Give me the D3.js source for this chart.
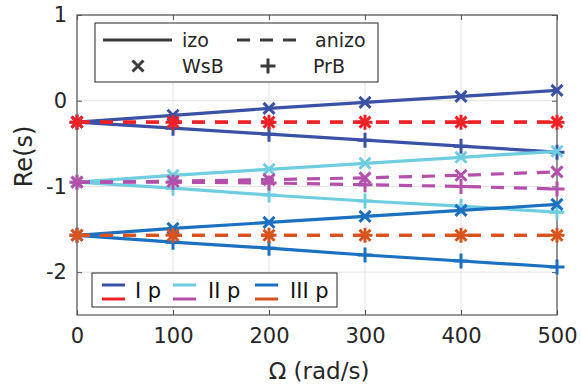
<!DOCTYPE html>
<html>
<head>
<meta charset="utf-8">
<script src="https://cdn.jsdelivr.net/npm/d3@7"></script>
<style>
  html, body { margin: 0; padding: 0; background: #fff; }
  svg { display: block; font-family: "DejaVu Sans", sans-serif; }
</style>
</head>
<body>
<svg id="chart" width="581" height="386"></svg>
<script>
// Rotation speed samples (rad/s)
const omega = [0, 100, 200, 300, 400, 500];

// Real part of the eigenvalues, per mode, material model and beam theory
const izoWsB_I   = [-0.25, -0.17, -0.09, -0.02, 0.05, 0.12];
const izoPrB_I   = [-0.25, -0.32, -0.39, -0.46, -0.53, -0.60];
const anizoWsB_I = [-0.25, -0.25, -0.25, -0.25, -0.25, -0.25];
const anizoPrB_I = [-0.25, -0.25, -0.25, -0.25, -0.25, -0.25];

const izoWsB_II   = [-0.95, -0.87, -0.80, -0.73, -0.66, -0.59];
const izoPrB_II   = [-0.95, -1.02, -1.10, -1.17, -1.23, -1.30];
const anizoWsB_II = [-0.95, -0.94, -0.92, -0.90, -0.87, -0.83];
const anizoPrB_II = [-0.95, -0.95, -0.96, -0.98, -1.00, -1.03];

const izoWsB_III   = [-1.57, -1.49, -1.42, -1.35, -1.28, -1.21];
const izoPrB_III   = [-1.57, -1.65, -1.72, -1.80, -1.87, -1.94];
const anizoWsB_III = [-1.57, -1.57, -1.57, -1.57, -1.57, -1.57];
const anizoPrB_III = [-1.57, -1.57, -1.57, -1.57, -1.57, -1.57];

const xTicks = [0, 100, 200, 300, 400, 500];
const yTicks = [1, 0, -1, -2];
const modeLabels = ["I p", "II p", "III p"];

const colIzo   = ["#3a51a5", "#6fcde0", "#1b70c0"];
const colAnizo = ["#ee2226", "#b44fab", "#d9531e"];

const svg = d3.select("#chart");
const m = { left: 77, right: 557, top: 15, bottom: 315 };

const x = d3.scaleLinear().domain([0, 500]).range([m.left, m.right]);
const y = d3.scaleLinear().domain([-2.5, 1]).range([m.bottom, m.top]);

// plain hyphen-minus tick labels
const fmt = d => String(d);

// grid
const grid = svg.append("g").attr("stroke", "#e4e4e4").attr("stroke-width", 1);
xTicks.forEach(t => grid.append("line")
  .attr("x1", x(t)).attr("x2", x(t)).attr("y1", m.top).attr("y2", m.bottom));
yTicks.forEach(t => grid.append("line")
  .attr("x1", m.left).attr("x2", m.right).attr("y1", y(t)).attr("y2", y(t)));

// axes with inward ticks on all sides
const axisColor = "#555";
const tickLen = 5;
function styleAxis(g) {
  g.select(".domain").remove();
  g.selectAll(".tick line").attr("stroke", axisColor);
  g.selectAll(".tick text").attr("fill", "#262626")
    .style("font-family", "DejaVu Sans").style("font-size", "21px");
}
svg.append("g").attr("transform", `translate(0,${m.bottom})`)
  .call(d3.axisBottom(x).tickValues(xTicks).tickSizeInner(-tickLen).tickSizeOuter(0).tickPadding(13).tickFormat(fmt))
  .call(styleAxis);
svg.append("g").attr("transform", `translate(0,${m.top})`)
  .call(d3.axisTop(x).tickValues(xTicks).tickSizeInner(-tickLen).tickSizeOuter(0).tickFormat(""))
  .call(styleAxis);
svg.append("g").attr("transform", `translate(${m.left},0)`)
  .call(d3.axisLeft(y).tickValues(yTicks).tickSizeInner(-tickLen).tickSizeOuter(0).tickPadding(10).tickFormat(fmt))
  .call(styleAxis);
svg.append("g").attr("transform", `translate(${m.right},0)`)
  .call(d3.axisRight(y).tickValues(yTicks).tickSizeInner(-tickLen).tickSizeOuter(0).tickFormat(""))
  .call(styleAxis);

svg.append("rect")
  .attr("x", m.left).attr("y", m.top)
  .attr("width", m.right - m.left).attr("height", m.bottom - m.top)
  .attr("fill", "none").attr("stroke", axisColor).attr("stroke-width", 1.2);

// axis titles
svg.append("text")
  .attr("x", (m.left + m.right) / 2 + 2).attr("y", 379)
  .attr("text-anchor", "middle").attr("fill", "#262626")
  .style("font-size", "23px").text("Ω (rad/s)");
svg.append("text")
  .attr("transform", `translate(32,${(y(-0.5)+y(-1.5))/2 - 30}) rotate(-90)`)
  .attr("text-anchor", "middle").attr("fill", "#262626")
  .style("font-size", "24px").text("Re(s)");

// markers
const ms = 5.5;
function markX(g, cx, cy, col) {
  g.append("path")
    .attr("d", `M${cx-ms},${cy-ms}L${cx+ms},${cy+ms}M${cx-ms},${cy+ms}L${cx+ms},${cy-ms}`)
    .attr("stroke", col).attr("stroke-width", 3).attr("fill", "none");
}
function markPlus(g, cx, cy, col) {
  const p = ms + 2;
  g.append("path")
    .attr("d", `M${cx-p},${cy}L${cx+p},${cy}M${cx},${cy-p}L${cx},${cy+p}`)
    .attr("stroke", col).attr("stroke-width", 3).attr("fill", "none");
}

const line = d3.line().x((d, i) => x(omega[i])).y(d => y(d));
const plot = svg.append("g");

function series(vals, col, dashed, marker) {
  plot.append("path").datum(vals)
    .attr("d", line).attr("fill", "none")
    .attr("stroke", col).attr("stroke-width", 3.2)
    .attr("stroke-dasharray", dashed ? "13,10" : null);
  vals.forEach((v, i) => marker(plot, x(omega[i]), y(v), col));
}

const izoSets = [[izoWsB_I, izoPrB_I], [izoWsB_II, izoPrB_II], [izoWsB_III, izoPrB_III]];
const anizoSets = [[anizoWsB_I, anizoPrB_I], [anizoWsB_II, anizoPrB_II], [anizoWsB_III, anizoPrB_III]];

[0, 1, 2].forEach(k => {
  series(izoSets[k][0], colIzo[k], false, markX);
  series(izoSets[k][1], colIzo[k], false, markPlus);
});
[0, 1, 2].forEach(k => {
  series(anizoSets[k][0], colAnizo[k], true, markX);
  series(anizoSets[k][1], colAnizo[k], true, markPlus);
});

// style legend (top)
const lg = svg.append("g");
lg.append("rect").attr("x", 95).attr("y", 23).attr("width", 283).attr("height", 59)
  .attr("fill", "#fff").attr("stroke", "#262626").attr("stroke-width", 1);
const lgCol = "#3b3b3b";
lg.append("line").attr("x1", 103).attr("x2", 172).attr("y1", 40).attr("y2", 40)
  .attr("stroke", lgCol).attr("stroke-width", 3.2);
lg.append("line").attr("x1", 237).attr("x2", 302).attr("y1", 40).attr("y2", 40)
  .attr("stroke", lgCol).attr("stroke-width", 3.2).attr("stroke-dasharray", "13,10");
markX(lg, 138, 66, lgCol);
markPlus(lg, 268, 66, lgCol);
[["izo", 182, 47], ["anizo", 315, 47], ["WsB", 182, 73], ["PrB", 313, 73]].forEach(([t, tx, ty]) =>
  lg.append("text").attr("x", tx).attr("y", ty).attr("fill", "#262626")
    .style("font-size", "19px").text(t));

// mode legend (bottom)
const lb = svg.append("g");
lb.append("rect").attr("x", 92).attr("y", 273).attr("width", 245).attr("height", 34)
  .attr("fill", "#fff").attr("stroke", "#262626").attr("stroke-width", 1);
const entryX = [102, 173, 255];
const textX = [135, 208, 290];
[0, 1, 2].forEach(k => {
  lb.append("line").attr("x1", entryX[k]).attr("x2", entryX[k] + 23).attr("y1", 285).attr("y2", 285)
    .attr("stroke", colIzo[k]).attr("stroke-width", 3);
  lb.append("line").attr("x1", entryX[k]).attr("x2", entryX[k] + 23).attr("y1", 299).attr("y2", 299)
    .attr("stroke", colAnizo[k]).attr("stroke-width", 3);
  lb.append("text").attr("x", textX[k]).attr("y", 298).attr("fill", "#111")
    .style("font-size", "21px").text(modeLabels[k]);
});
</script>
</body>
</html>
